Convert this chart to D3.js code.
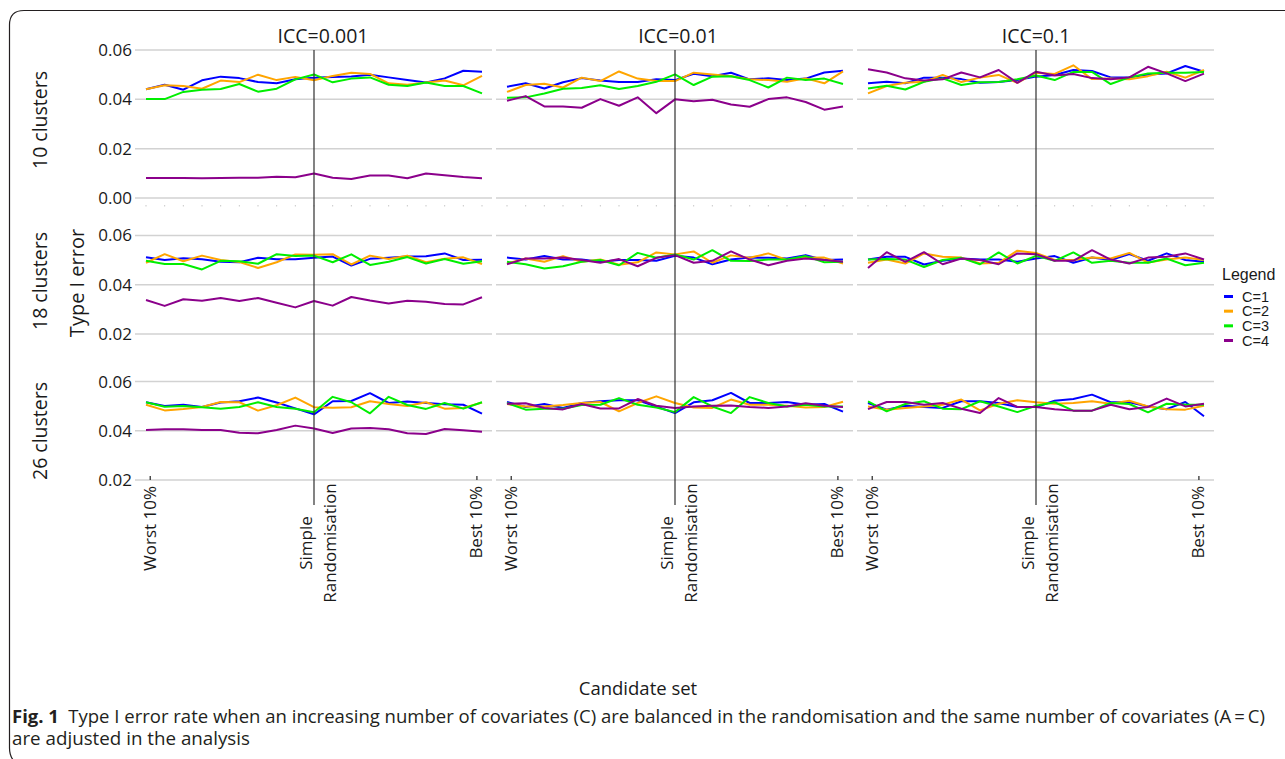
<!DOCTYPE html>
<html>
<head>
<meta charset="utf-8">
<script src="https://cdnjs.cloudflare.com/ajax/libs/d3/7.8.5/d3.min.js"></script>
<style>
  html, body { margin: 0; padding: 0; background: #fff; }
  svg { display: block; }
</style>
</head>
<body>
<div id="chart"></div>
<script>
// ---------------- DATA ----------------
const candidateIndex = d3.range(19);          // candidate sets, worst 10% ... best 10%
const xTickIndex = [0, 9, 18];
const xTickLabels = [["Worst 10%"], ["Simple", "Randomisation"], ["Best 10%"]];
const iccLabels = ["ICC=0.001", "ICC=0.01", "ICC=0.1"];
const clusterLabels = ["10 clusters", "18 clusters", "26 clusters"];
const seriesNames = ["C=1", "C=2", "C=3", "C=4"];
const row1Ticks = [0.00, 0.02, 0.04, 0.06];
const rowTicks = [0.02, 0.04, 0.06];

// each panel: [C=1, C=2, C=3, C=4]
const icc0001_k10 = [
  [0.0441,0.0459,0.0439,0.0477,0.0492,0.0486,0.0470,0.0465,0.0481,0.0488,0.0491,0.0493,0.0500,0.0489,0.0478,0.0468,0.0485,0.0516,0.0512],
  [0.0441,0.0457,0.0454,0.0443,0.0476,0.0470,0.0500,0.0478,0.0491,0.0477,0.0495,0.0508,0.0503,0.0465,0.0459,0.0468,0.0476,0.0457,0.0495],
  [0.0401,0.0401,0.0430,0.0439,0.0442,0.0462,0.0431,0.0443,0.0481,0.0501,0.0469,0.0484,0.0489,0.0459,0.0454,0.0468,0.0454,0.0454,0.0424],
  [0.0081,0.0081,0.0081,0.0080,0.0081,0.0082,0.0082,0.0086,0.0084,0.0099,0.0082,0.0077,0.0091,0.0091,0.0080,0.0099,0.0092,0.0085,0.0080]
];
const icc001_k10 = [
  [0.0451,0.0465,0.0444,0.0469,0.0486,0.0476,0.0470,0.0470,0.0481,0.0478,0.0504,0.0494,0.0508,0.0481,0.0485,0.0478,0.0484,0.0509,0.0516],
  [0.0430,0.0458,0.0463,0.0448,0.0488,0.0474,0.0513,0.0484,0.0474,0.0474,0.0508,0.0501,0.0494,0.0481,0.0478,0.0471,0.0485,0.0465,0.0513],
  [0.0406,0.0408,0.0424,0.0443,0.0446,0.0457,0.0442,0.0454,0.0471,0.0501,0.0458,0.0492,0.0494,0.0478,0.0448,0.0488,0.0478,0.0484,0.0462],
  [0.0394,0.0413,0.0371,0.0371,0.0366,0.0401,0.0374,0.0408,0.0344,0.0400,0.0392,0.0398,0.0379,0.0370,0.0401,0.0408,0.0389,0.0358,0.0371]
];
const icc01_k10 = [
  [0.0465,0.0471,0.0465,0.0488,0.0488,0.0482,0.0467,0.0470,0.0478,0.0492,0.0499,0.0519,0.0515,0.0489,0.0489,0.0501,0.0505,0.0535,0.0512],
  [0.0424,0.0454,0.0467,0.0471,0.0499,0.0470,0.0488,0.0499,0.0467,0.0508,0.0503,0.0538,0.0482,0.0484,0.0481,0.0494,0.0512,0.0488,0.0519],
  [0.0444,0.0455,0.0440,0.0471,0.0485,0.0458,0.0469,0.0470,0.0481,0.0497,0.0478,0.0511,0.0511,0.0462,0.0489,0.0505,0.0508,0.0508,0.0511],
  [0.0522,0.0509,0.0485,0.0476,0.0481,0.0509,0.0489,0.0519,0.0467,0.0512,0.0497,0.0503,0.0486,0.0481,0.0489,0.0532,0.0505,0.0474,0.0504]
];
const icc0001_k18 = [
  [0.0511,0.0500,0.0507,0.0503,0.0493,0.0491,0.0509,0.0503,0.0503,0.0509,0.0514,0.0478,0.0505,0.0509,0.0514,0.0515,0.0527,0.0500,0.0501],
  [0.0489,0.0524,0.0495,0.0518,0.0500,0.0492,0.0468,0.0491,0.0523,0.0522,0.0524,0.0482,0.0518,0.0504,0.0518,0.0491,0.0505,0.0511,0.0484],
  [0.0497,0.0484,0.0484,0.0462,0.0497,0.0495,0.0485,0.0524,0.0516,0.0518,0.0491,0.0523,0.0480,0.0493,0.0512,0.0486,0.0504,0.0485,0.0495],
  [0.0338,0.0314,0.0341,0.0335,0.0346,0.0334,0.0346,0.0327,0.0308,0.0334,0.0315,0.0350,0.0336,0.0324,0.0335,0.0331,0.0322,0.0320,0.0349]
];
const icc001_k18 = [
  [0.0510,0.0502,0.0516,0.0502,0.0502,0.0493,0.0500,0.0500,0.0497,0.0517,0.0510,0.0483,0.0502,0.0510,0.0509,0.0506,0.0520,0.0500,0.0502],
  [0.0486,0.0506,0.0493,0.0516,0.0493,0.0502,0.0481,0.0491,0.0531,0.0523,0.0535,0.0489,0.0519,0.0509,0.0527,0.0500,0.0509,0.0510,0.0486],
  [0.0493,0.0483,0.0466,0.0475,0.0493,0.0500,0.0479,0.0529,0.0509,0.0523,0.0502,0.0540,0.0497,0.0496,0.0502,0.0502,0.0516,0.0491,0.0493],
  [0.0483,0.0506,0.0506,0.0510,0.0500,0.0489,0.0504,0.0475,0.0509,0.0520,0.0489,0.0497,0.0535,0.0502,0.0479,0.0497,0.0506,0.0500,0.0493]
];
const icc01_k18 = [
  [0.0502,0.0513,0.0513,0.0482,0.0497,0.0506,0.0502,0.0502,0.0493,0.0506,0.0516,0.0489,0.0510,0.0500,0.0524,0.0497,0.0527,0.0500,0.0493],
  [0.0489,0.0502,0.0486,0.0527,0.0513,0.0510,0.0486,0.0489,0.0538,0.0529,0.0500,0.0500,0.0510,0.0506,0.0529,0.0490,0.0502,0.0510,0.0500],
  [0.0502,0.0504,0.0502,0.0472,0.0500,0.0509,0.0483,0.0531,0.0486,0.0517,0.0497,0.0531,0.0489,0.0497,0.0489,0.0489,0.0506,0.0479,0.0489],
  [0.0468,0.0532,0.0493,0.0532,0.0483,0.0506,0.0500,0.0483,0.0527,0.0524,0.0497,0.0497,0.0540,0.0502,0.0486,0.0510,0.0513,0.0527,0.0502]
];
const icc0001_k26 = [
  [0.0516,0.0501,0.0506,0.0497,0.0515,0.0520,0.0535,0.0515,0.0491,0.0467,0.0520,0.0521,0.0553,0.0513,0.0519,0.0513,0.0508,0.0506,0.0470],
  [0.0506,0.0483,0.0489,0.0497,0.0517,0.0516,0.0482,0.0504,0.0535,0.0496,0.0494,0.0496,0.0520,0.0509,0.0501,0.0516,0.0490,0.0493,0.0515],
  [0.0516,0.0498,0.0501,0.0496,0.0490,0.0497,0.0516,0.0497,0.0490,0.0475,0.0538,0.0516,0.0471,0.0538,0.0505,0.0489,0.0513,0.0490,0.0516],
  [0.0403,0.0406,0.0406,0.0403,0.0403,0.0392,0.0390,0.0403,0.0421,0.0409,0.0391,0.0409,0.0411,0.0406,0.0390,0.0387,0.0407,0.0402,0.0396]
];
const icc001_k26 = [
  [0.0517,0.0497,0.0509,0.0493,0.0513,0.0520,0.0524,0.0524,0.0499,0.0472,0.0516,0.0524,0.0554,0.0513,0.0513,0.0517,0.0506,0.0509,0.0478],
  [0.0509,0.0499,0.0499,0.0505,0.0513,0.0517,0.0479,0.0513,0.0540,0.0513,0.0495,0.0493,0.0527,0.0506,0.0506,0.0502,0.0495,0.0497,0.0518],
  [0.0513,0.0486,0.0490,0.0490,0.0505,0.0506,0.0533,0.0506,0.0495,0.0476,0.0537,0.0499,0.0472,0.0537,0.0513,0.0499,0.0506,0.0499,0.0499],
  [0.0510,0.0512,0.0493,0.0487,0.0509,0.0491,0.0491,0.0529,0.0502,0.0493,0.0499,0.0502,0.0503,0.0497,0.0493,0.0499,0.0512,0.0502,0.0497]
];
const icc01_k26 = [
  [0.0513,0.0486,0.0502,0.0497,0.0493,0.0520,0.0520,0.0513,0.0497,0.0497,0.0522,0.0529,0.0547,0.0516,0.0516,0.0499,0.0488,0.0517,0.0459],
  [0.0499,0.0486,0.0493,0.0499,0.0506,0.0527,0.0483,0.0510,0.0524,0.0516,0.0510,0.0513,0.0520,0.0510,0.0522,0.0499,0.0488,0.0486,0.0502],
  [0.0520,0.0479,0.0509,0.0520,0.0490,0.0488,0.0520,0.0499,0.0476,0.0502,0.0516,0.0482,0.0482,0.0513,0.0509,0.0475,0.0510,0.0506,0.0506],
  [0.0488,0.0517,0.0517,0.0506,0.0513,0.0490,0.0472,0.0533,0.0497,0.0497,0.0488,0.0482,0.0482,0.0506,0.0488,0.0497,0.0531,0.0499,0.0510]
];

// ---------------- LAYOUT ----------------
const W = 1285, H = 759;
const colors = ["#0000ff", "#ffa500", "#00ee00", "#8b008b"];
const panelLefts = [135, 496, 857];
const panelW = 357;
const rows = [
  { domain: [0, 0.06], range: [198, 50], ticks: row1Ticks, panels: [icc0001_k10, icc001_k10, icc01_k10] },
  { domain: [0.02, 0.06], range: [334, 235.4], ticks: rowTicks, panels: [icc0001_k18, icc001_k18, icc01_k18] },
  { domain: [0.02, 0.06], range: [480, 381.6], ticks: rowTicks, panels: [icc0001_k26, icc001_k26, icc01_k26] }
];
const rowLabelY = [120, 281, 431];
const titleX = [323, 678, 1036];
const FONT = "'Open Sans', 'Noto Sans', sans-serif";
const TXT = "#1a1a1a";

const svg = d3.select("#chart").append("svg")
  .attr("width", W).attr("height", H)
  .attr("viewBox", `0 0 ${W} ${H}`);

svg.append("rect").attr("width", W).attr("height", H).attr("fill", "#fff");

// frame
svg.append("path")
  .attr("d", "M1290,10.5 H24 Q9.5,10.5 9.5,25 V748 Q9.5,756 14,761")
  .attr("fill", "none").attr("stroke", "#231f20").attr("stroke-width", 1.2);

const xScales = panelLefts.map(l => d3.scaleLinear().domain([0, 18]).range([l + 11, l + 347]));

rows.forEach((row, ri) => {
  const y = d3.scaleLinear().domain(row.domain).range(row.range);
  // grid lines
  panelLefts.forEach(l => {
    svg.append("g").selectAll("line").data(row.ticks).join("line")
      .attr("x1", l).attr("x2", l + panelW)
      .attr("y1", d => y(d)).attr("y2", d => y(d))
      .attr("stroke", "#d2d2d2").attr("stroke-width", 1.5);
  });
  // y axis labels
  const ax = svg.append("g").attr("transform", `translate(${panelLefts[0]},0)`)
    .call(d3.axisLeft(y).tickValues(row.ticks).tickFormat(d3.format(".2f")).tickSize(0).tickPadding(3));
  ax.select(".domain").remove();
  ax.selectAll("text").attr("font-family", FONT).attr("font-size", 17).attr("fill", TXT);

  // minor dots below first row
  if (ri === 0) {
    xScales.forEach(x => {
      svg.append("g").selectAll("rect").data(candidateIndex).join("rect")
        .attr("x", d => x(d) - 0.5).attr("y", 205).attr("width", 1).attr("height", 1.5)
        .attr("fill", "#c8c8c8");
    });
  }

  // lines
  row.panels.forEach((panel, pi) => {
    const x = xScales[pi];
    const line = d3.line().x((d, i) => x(candidateIndex[i])).y(d => y(d));
    svg.append("g").selectAll("path").data(panel).join("path")
      .attr("d", d => line(d))
      .attr("fill", "none")
      .attr("stroke", (d, i) => colors[i])
      .attr("stroke-width", 2)
      .attr("stroke-linejoin", "round");
  });

  // row label
  svg.append("text")
    .attr("transform", `translate(40,${rowLabelY[ri]}) rotate(-90)`)
    .attr("text-anchor", "middle").attr("dy", "0.35em")
    .attr("font-family", FONT).attr("font-size", 19.5).attr("fill", TXT)
    .text(clusterLabels[ri]);
});

// y axis title
svg.append("text")
  .attr("transform", "translate(77,283) rotate(-90)")
  .attr("text-anchor", "middle").attr("dy", "0.35em")
  .attr("font-family", FONT).attr("font-size", 20).attr("fill", TXT)
  .text("Type I error");

// vertical reference lines + titles + x ticks
const yBottom = d3.scaleLinear().domain(rows[2].domain).range(rows[2].range);
xScales.forEach((x, pi) => {
  svg.append("line")
    .attr("x1", x(9)).attr("x2", x(9)).attr("y1", 50).attr("y2", 505)
    .attr("stroke", "#303030").attr("stroke-width", 1.2);

  svg.append("text")
    .attr("x", titleX[pi]).attr("y", 42.5)
    .attr("text-anchor", "middle")
    .attr("font-family", FONT).attr("font-size", 19.5).attr("fill", TXT)
    .text(iccLabels[pi]);

  const xa = svg.append("g").attr("transform", `translate(0,${yBottom(0.02)})`)
    .call(d3.axisBottom(x).tickValues([0.2, 17.7]).tickSize(-4).tickFormat(""));
  xa.select(".domain").remove();
  xa.selectAll("line").attr("stroke", "#333").attr("stroke-width", 1.3);

  xTickIndex.forEach((ti, k) => {
    const lines = xTickLabels[k];
    const px = ti === 0 ? x(0.2) : ti === 18 ? x(17.7) : x(ti) + 4;
    if (lines.length === 1) {
      svg.append("text")
        .attr("transform", `translate(${px},486) rotate(-90)`)
        .attr("text-anchor", "end").attr("dy", "0.35em")
        .attr("font-family", FONT).attr("font-size", 17).attr("fill", TXT)
        .text(lines[0]);
    } else {
      const t = svg.append("text")
        .attr("transform", `translate(${px},543) rotate(-90)`)
        .attr("text-anchor", "middle")
        .attr("font-family", FONT).attr("font-size", 17).attr("fill", TXT);
      lines.forEach((s, j) => {
        t.append("tspan").attr("x", 0).attr("y", (j - 0.5) * 24).attr("dy", "0.35em").text(s);
      });
    }
  });
});

// legend
const LFONT = "'Liberation Sans', Arial, sans-serif";
svg.append("text").attr("x", 1222).attr("y", 280)
  .attr("font-family", LFONT).attr("font-size", 16).attr("fill", TXT).text("Legend");
const legY = d3.scalePoint().domain(seriesNames).range([296.5, 340.5]);
const lg = svg.append("g");
lg.selectAll("rect").data(seriesNames).join("rect")
  .attr("x", 1224).attr("y", d => legY(d) - 1.5).attr("width", 9).attr("height", 3)
  .attr("fill", (d, i) => colors[i]);
lg.selectAll("text").data(seriesNames).join("text")
  .attr("x", 1242).attr("y", d => legY(d)).attr("dy", "0.36em")
  .attr("font-family", LFONT).attr("font-size", 14.5).attr("fill", TXT)
  .text(d => d);

// x axis title
svg.append("text").attr("x", 638).attr("y", 695)
  .attr("text-anchor", "middle")
  .attr("font-family", FONT).attr("font-size", 18.5).attr("fill", TXT)
  .text("Candidate set");

// caption
const cap = svg.append("text").attr("x", 12).attr("y", 722.5)
  .attr("font-family", FONT).attr("font-size", 18).attr("fill", "#231f20")
  .attr("textLength", 1253).attr("lengthAdjust", "spacingAndGlyphs");
cap.append("tspan").attr("font-weight", "bold").text("Fig. 1");
cap.append("tspan").text("\u2002Type I error rate when an increasing number of covariates (C) are balanced in the randomisation and the same number of covariates (A\u2009=\u2009C)");
svg.append("text").attr("x", 12).attr("y", 744.5)
  .attr("font-family", FONT).attr("font-size", 18).attr("fill", "#231f20")
  .attr("textLength", 238).attr("lengthAdjust", "spacingAndGlyphs")
  .text("are adjusted in the analysis");
</script>
</body>
</html>
